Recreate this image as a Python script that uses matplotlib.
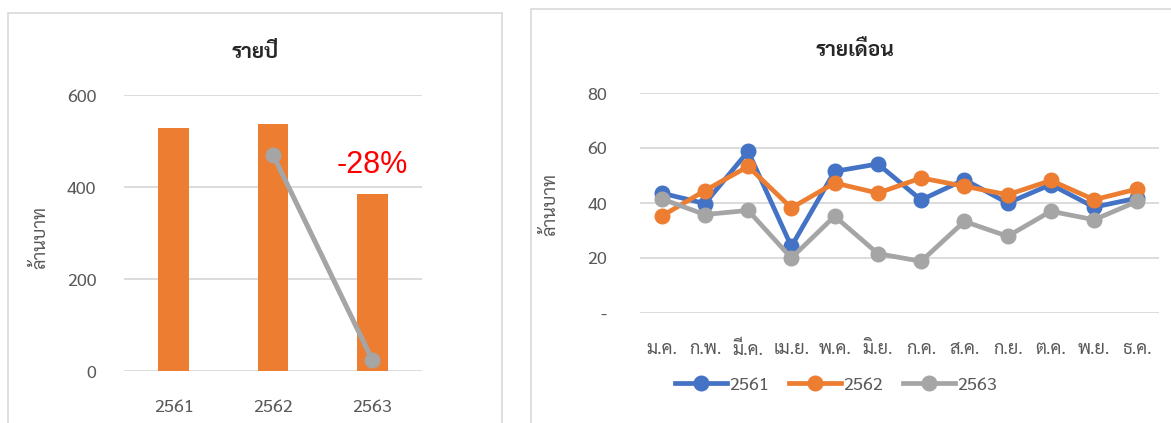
import matplotlib
matplotlib.use("Agg")
import matplotlib.pyplot as plt
from matplotlib import font_manager
from matplotlib.patches import Rectangle

# yearly totals (million baht)
years = ["2561", "2562", "2563"]
year_totals = [529, 536, 384]
trend_years = [1, 2]          # index positions of the grey trend line
trend_values = [470, 24]

# monthly values (million baht)
months = ["ม.ค.", "ก.พ.", "มี.ค.", "เม.ย.", "พ.ค.", "มิ.ย.",
          "ก.ค.", "ส.ค.", "ก.ย.", "ต.ค.", "พ.ย.", "ธ.ค."]
m2561 = [43.6, 39.8, 58.8, 24.2, 51.5, 54.2, 41.1, 48.5, 40.0, 46.7, 38.5, 41.8]
m2562 = [35.2, 44.5, 53.3, 38.2, 47.3, 43.6, 49.1, 46.1, 43.0, 48.2, 41.2, 45.1]
m2563 = [41.5, 35.8, 37.3, 20.0, 35.2, 21.6, 18.8, 33.3, 27.9, 37.0, 33.9, 40.6]

BLUE = "#4472C4"
ORANGE = "#ED7D31"
GREY = "#A5A5A5"
GRID = "#D9D9D9"
TEXT = "#595959"

installed = {f.name for f in font_manager.fontManager.ttflist}
thai_font = next((n for n in ["Sarabun", "Noto Sans Thai", "IBM Plex Sans Thai", "Kanit"]
                  if n in installed), "DejaVu Sans")
plt.rcParams["font.family"] = [thai_font, "DejaVu Sans"]

W, H = 1171, 423
fig = plt.figure(figsize=(W / 100, H / 100), dpi=100)

# chart frames
fig.patches.append(Rectangle((8 / W, -0.05), (502 - 8) / W, 1 - 13 / H + 0.05,
                             transform=fig.transFigure, fill=False, ec=GRID, lw=1.2))
fig.patches.append(Rectangle((531 / W, -0.05), 1.0, 1 - 9 / H + 0.05,
                             transform=fig.transFigure, fill=False, ec=GRID, lw=1.2))


def style_axes(ax):
    for s in ax.spines.values():
        s.set_visible(False)
    ax.grid(axis="y", color=GRID, lw=1.3)
    ax.set_axisbelow(True)
    ax.tick_params(length=0, colors=TEXT, labelsize=13)


# yearly bars
ax1 = fig.add_axes([124 / W, 1 - 371 / H, 298 / W, 276 / H])
style_axes(ax1)
x = list(range(len(years)))
ax1.bar(x, year_totals, width=0.31, color=ORANGE, zorder=2)
ax1.plot(trend_years, trend_values, color=GREY, lw=3.6, marker="o", ms=10.5, zorder=3)
ax1.set_xlim(-0.5, 2.5)
ax1.set_ylim(0, 600)
ax1.set_yticks([0, 200, 400, 600])
ax1.set_xticks(x, years)
ax1.tick_params(axis="y", pad=20)
ax1.tick_params(axis="x", pad=20)
change = (year_totals[2] / year_totals[1] - 1) * 100
ax1.text(2, 448, f"{change:.0f}%", color="#FF0000", fontsize=22, ha="center", va="center",
         family=["Liberation Sans", "DejaVu Sans"])
fig.text(255 / W, 1 - 52 / H, "รายปี", ha="center", va="center", fontsize=15,
         fontweight="bold", color="#262626")
fig.text(40 / W, 1 - 237 / H, "ล้านบาท", ha="center", va="center", rotation=90,
         fontsize=13, color=TEXT)

# monthly lines
ax2 = fig.add_axes([640 / W, 1 - 313 / H, 519 / W, 220 / H])
style_axes(ax2)
mx = list(range(len(months)))
for vals, col, lab in [(m2561, BLUE, "2561"), (m2562, ORANGE, "2562"), (m2563, GREY, "2563")]:
    ax2.plot(mx, vals, color=col, lw=3.4, marker="o", ms=10.5, label=lab)
ax2.set_xlim(-0.5, 11.5)
ax2.set_ylim(0, 80)
ax2.set_yticks([0, 20, 40, 60, 80], ["-", "20", "40", "60", "80"])
ax2.set_xticks(mx, months)
ax2.tick_params(axis="y", pad=24)
ax2.tick_params(axis="x", pad=20)
fig.text(855 / W, 1 - 50 / H, "รายเดือน", ha="center", va="center", fontsize=15,
         fontweight="bold", color="#262626")
fig.text(550 / W, 1 - 205 / H, "ล้านบาท", ha="center", va="center", rotation=90,
         fontsize=13, color=TEXT)
leg = fig.legend(loc="center", bbox_to_anchor=(836 / W, 1 - 385 / H), ncol=3, frameon=False,
                 fontsize=13, handlelength=2.9, handletextpad=0.1, columnspacing=1.1,
                 labelcolor=TEXT)

fig.savefig("out.png", dpi=100)
